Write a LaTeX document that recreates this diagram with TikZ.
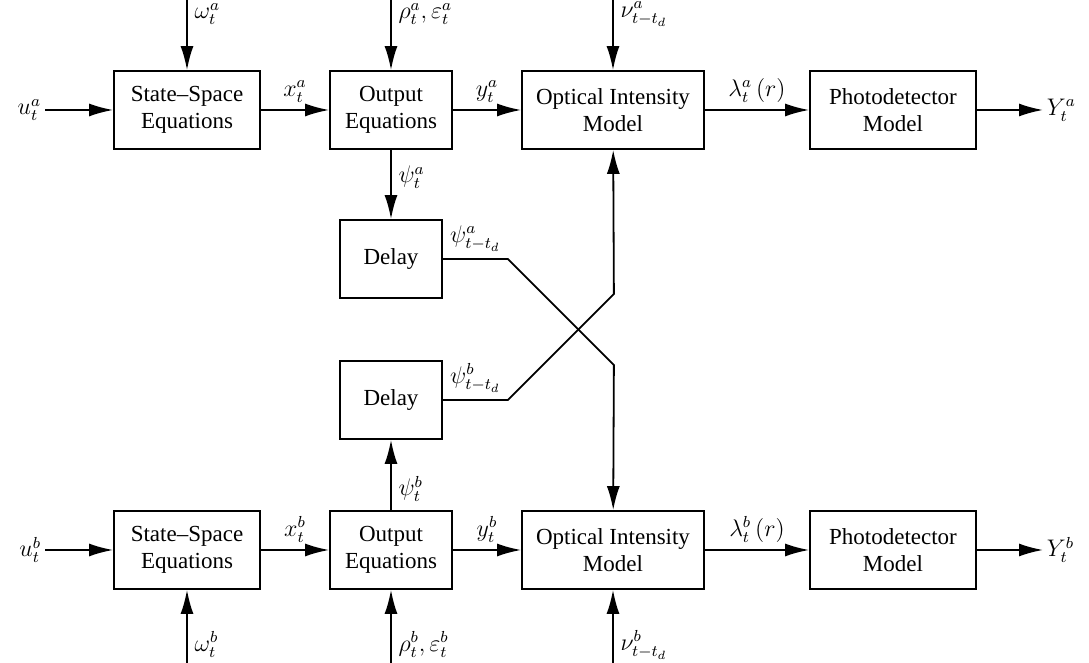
\documentclass[tikz,border=0pt]{standalone}
\usepackage{amsmath}
\usepackage[no-math]{fontspec}
\setmainfont{Liberation Serif}
\usetikzlibrary{arrows.meta,positioning}

\begin{document}
\begin{tikzpicture}[>={Latex[length=12pt,width=6.5pt]},line width=0.9pt,
	node distance=102pt,on grid,auto,
	font=\fontsize{12}{14}\selectfont,
	block/.style={draw,align=center,minimum height=39pt,inner sep=0pt,
		font=\fontsize{11.5}{13.8}\selectfont},
	lbl/.style={inner sep=1.5pt}]
	\useasboundingbox (0,0) rectangle (544.5pt,331.5pt);

	% channel a
	\node[block,minimum width=73pt] (ss_a) at (93.5pt,276.5pt) {State--Space\\Equations};
	\node[block,minimum width=61pt] (out_a) [right=of ss_a] {Output\\Equations};
	\node[block,minimum width=91pt] (oim_a) [right=111pt of out_a] {Optical Intensity\\Model};
	\node[block,minimum width=83pt] (pd_a) [right=140pt of oim_a] {Photodetector\\Model};
	\node[block,minimum width=51pt] (dl_a) [below=74.5pt of out_a] {Delay};
	\node[lbl,anchor=east] (u_a) at (22.5pt,276.5pt) {$u_t^a$};
	\node[lbl,anchor=west] (y_a) at (521.5pt,276.5pt) {$Y_t^a$};
	\coordinate (w_a) at (ss_a |- 0,331.5pt);
	\coordinate (r_a) at (out_a |- 0,331.5pt);
	\coordinate (n_a) at (oim_a |- 0,331.5pt);

	% channel b
	\node[block,minimum width=73pt] (ss_b) [below=220pt of ss_a] {State--Space\\Equations};
	\node[block,minimum width=61pt] (out_b) [right=of ss_b] {Output\\Equations};
	\node[block,minimum width=91pt] (oim_b) [right=111pt of out_b] {Optical Intensity\\Model};
	\node[block,minimum width=83pt] (pd_b) [right=140pt of oim_b] {Photodetector\\Model};
	\node[block,minimum width=51pt] (dl_b) [above=75pt of out_b] {Delay};
	\node[lbl,anchor=east] (u_b) at (22.5pt,56.5pt) {$u_t^b$};
	\node[lbl,anchor=west] (y_b) at (521.5pt,56.5pt) {$Y_t^b$};
	\coordinate (w_b) at (ss_b |- 0,0);
	\coordinate (r_b) at (out_b |- 0,0);
	\coordinate (n_b) at (oim_b |- 0,0);

	\path[->]
	(u_a)   edge (ss_a)
	(w_a)   edge node[pos=0.2] {$\omega_t^a$} (ss_a)
	(ss_a)  edge node {$x_t^a$} (out_a)
	(r_a)   edge node[pos=0.2] {$\rho_t^a,\varepsilon_t^a$} (out_a)
	(out_a) edge node {$y_t^a$} (oim_a)
	        edge node[pos=0.4] {$\psi_t^a$} (dl_a)
	(n_a)   edge node[pos=0.2] {$\nu_{t-t_d}^a$} (oim_a)
	(oim_a) edge node {$\lambda_t^a\left(r\right)$} (pd_a)
	(pd_a)  edge (y_a)

	(u_b)   edge (ss_b)
	(w_b)   edge node[swap,pos=0.25] {$\omega_t^b$} (ss_b)
	(ss_b)  edge node {$x_t^b$} (out_b)
	(r_b)   edge node[swap,pos=0.25] {$\rho_t^b,\varepsilon_t^b$} (out_b)
	(out_b) edge node {$y_t^b$} (oim_b)
	        edge node[swap,pos=0.3] {$\psi_t^b$} (dl_b)
	(n_b)   edge node[swap,pos=0.25] {$\nu_{t-t_d}^b$} (oim_b)
	(oim_b) edge node {$\lambda_t^b\left(r\right)$} (pd_b)
	(pd_b)  edge (y_b);

	% delayed outputs cross over
	\draw[->] (dl_a.east) -- node[above] {$\psi_{t-t_d}^a$} ++(32.5pt,0)
		-- ++(53pt,-53pt) -- (oim_b);
	\draw[->] (dl_b.east) -- node[above] {$\psi_{t-t_d}^b$} ++(32.5pt,0)
		-- ++(53pt,53pt) -- (oim_a);
\end{tikzpicture}
\end{document}
